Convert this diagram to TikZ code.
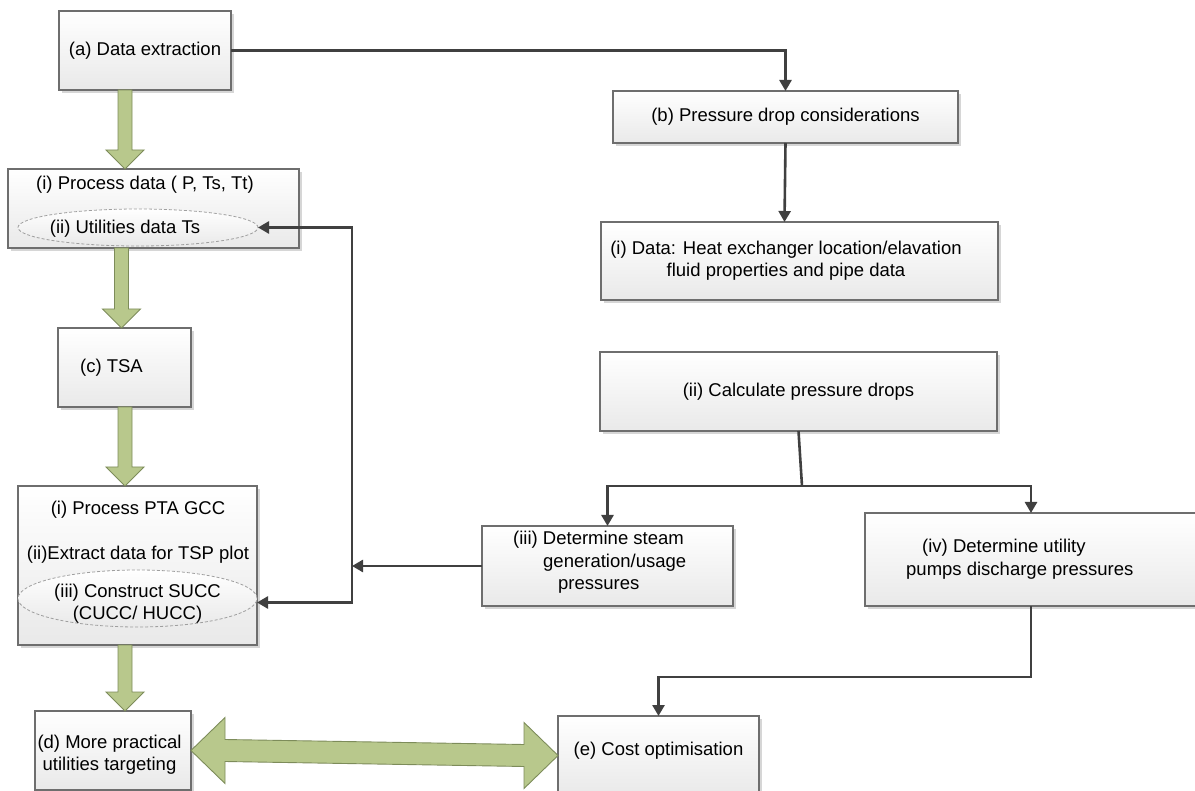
\documentclass[tikz,border=0pt]{standalone}
\usepackage{fontspec}
\setmainfont{Liberation Sans}
\usetikzlibrary{arrows.meta,shadows,calc,shapes.geometric}
\definecolor{boxline}{HTML}{6E6E6E}
\definecolor{wirecol}{HTML}{404040}
\definecolor{olivefill}{HTML}{B8C88C}
\definecolor{oliveline}{HTML}{7D8C5A}
\definecolor{boxbot}{HTML}{E9E9E9}
\tikzset{
  txt/.style={font=\fontsize{18.5}{22.5}\selectfont, inner sep=0pt, align=center},
  box/.style={draw=boxline, line width=1.1pt, top color=white, bottom color=boxbot,
    inner sep=0pt, outer sep=0pt, font=\fontsize{18.5}{22.5}\selectfont,
    drop shadow={shadow xshift=3pt, shadow yshift=-3pt, fill=black!16, opacity=1}},
  oval/.style={ellipse, draw=gray!75, dash pattern=on 3pt off 2pt, line width=0.8pt,
    top color=white, bottom color=boxbot, inner sep=0pt, outer sep=0pt},
  tipw/.tip={Triangle[length=11pt,width=12pt]},
  plainwire/.style={draw=wirecol, line width=2.6pt},
  wire/.style={plainwire, -tipw},
  fat/.style={fill=olivefill, draw=oliveline, line width=0.9pt, line join=miter},
}
% thick green downward arrow at x = #1 from the bottom of #2 to the top of #3
\newcommand\fatdown[3]{%
  \draw[fat] let \p1=(#2.south), \p2=(#3.north) in
    ({#1pt-7pt},\y1) -- ({#1pt+7pt},\y1) -- ({#1pt+7pt},{\y2+19pt})
    -- ({#1pt+19pt},{\y2+19pt}) -- (#1pt,\y2) -- ({#1pt-19pt},{\y2+19pt})
    -- ({#1pt-7pt},{\y2+19pt}) -- cycle;}
\begin{document}
\begin{tikzpicture}[x=1pt,y=-1pt]
\useasboundingbox (0,0) rectangle (1195,791);

% left column
\node[box, minimum width=172pt, minimum height=79pt] (a) at (145,50.5) {(a) Data extraction};
\node[box, minimum width=291pt, minimum height=79pt] (procdata) at (153.5,208.5) {};
\node[oval, minimum width=240pt, minimum height=37pt] (util) at (138,227.5) {};
\node[txt] (tproc) at (145,185) {(i) Process data ( P, Ts, Tt)};
\node[txt] (tutil) at (125,229) {(ii) Utilities data Ts};

\node[box, minimum width=133pt, minimum height=79pt] (tsa) at (124.5,367.5) {};
\node[txt] (ttsa) at (111.5,368) {(c) TSA};

\node[box, minimum width=239pt, minimum height=159pt] (pta) at (137.5,565.5) {};
\node[oval, minimum width=239pt, minimum height=57pt] (succ) at (137.5,598.5) {};
\node[txt] (tpta) at (138,510) {(i) Process PTA GCC};
\node[txt] (textr) at (138,555) {(ii)Extract data for TSP plot};
\node[txt] (tsucc) at (137.5,603.5) {(iii) Construct SUCC\\(CUCC/ HUCC)};

\node[box, minimum width=156pt, minimum height=79pt] (d) at (113,750.5) {};
\node[txt] (td) at (109.5,754.5) {(d) More practical\\utilities targeting};

% right column
\node[box, minimum width=345pt, minimum height=52pt] (b) at (785.5,117) {(b) Pressure drop considerations};
\node[box, minimum width=397pt, minimum height=78pt] (idata) at (799.5,261) {};
\node[txt] (tidata) at (786,260.5) {(i) Data: Heat exchanger location/elavation\\fluid properties and pipe data};
\node[box, minimum width=397pt, minimum height=79pt] (calc) at (798.5,391.5) {(ii) Calculate pressure drops};

\node[box, minimum width=251pt, minimum height=80pt] (det) at (607.5,566) {};
\node[txt, align=left, anchor=west] (tdet) at (513,562.5)
  {(iii) Determine steam\\\hspace*{30pt}generation/usage\\\hspace*{45pt}pressures};
\node[box, minimum width=332pt, minimum height=93pt] (iv) at (1031,559.5) {};
\node[txt, align=left, anchor=west] (tiv) at (906,559)
  {\hspace*{16pt}(iv) Determine utility\\pumps discharge pressures};

\node[box, minimum width=201pt, minimum height=79pt] (e) at (658.5,755.5) {};
\node[txt] (te) at (658.5,751) {(e) Cost optimisation};

% thin connectors
\draw[wire] (a.east) -| (b.north);
\draw[wire] (b.south) -- ([xshift=-15pt]idata.north);
\coordinate (split) at (802,486);
\draw[plainwire] (calc.south) -- (split);
\draw[wire] (split) -| (det.north);
\draw[wire] (split) -| (iv.north);
\coordinate (rail) at (352,400);
\draw[wire] (det.west) -- (det.west -| rail);
\draw[plainwire, tipw-tipw] (util.east) -| (rail) |- ([yshift=-4pt]succ.east);
\draw[wire] (iv.south) -- ++(0,71) -| (e.north);

% thick green arrows
\fatdown{125}{a}{procdata}
\fatdown{121.5}{procdata}{tsa}
\fatdown{125}{tsa}{pta}
\fatdown{125}{pta}{d}
\draw[fat] (d.east) -- ([shift={(34pt,33pt)}]d.east) -- ([shift={(34pt,11pt)}]d.east)
  -- ([shift={(-34pt,11pt)}]e.west) -- ([shift={(-34pt,33pt)}]e.west) -- (e.west)
  -- ([shift={(-34pt,-33pt)}]e.west) -- ([shift={(-34pt,-11pt)}]e.west)
  -- ([shift={(34pt,-11pt)}]d.east) -- ([shift={(34pt,-33pt)}]d.east) -- cycle;
\end{tikzpicture}
\end{document}
